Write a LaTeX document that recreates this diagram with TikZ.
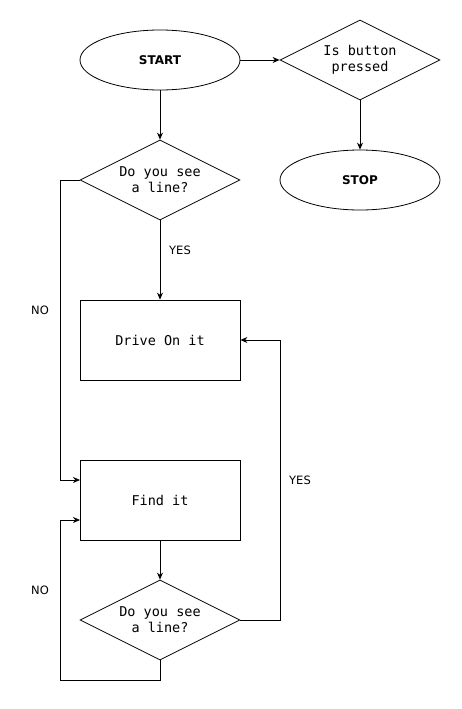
\documentclass[tikz,border=0pt]{standalone}
\usepackage{fontspec}
\setmainfont{DejaVu Sans}
\setmonofont{DejaVu Sans Mono}
\usetikzlibrary{shapes.geometric,arrows.meta}
\begin{document}
\begin{tikzpicture}[x=1pt,y=-1pt,
  every path/.style={line width=0.8pt},
  ell/.style={draw,ellipse,minimum width=160pt,minimum height=60pt,inner sep=0pt,font=\fontsize{12}{14}\selectfont\bfseries},
  dia/.style={draw,diamond,aspect=2,minimum width=160pt,minimum height=80pt,inner sep=0pt,align=center,font=\fontsize{13.5}{16}\ttfamily},
  box/.style={draw,rectangle,minimum width=160pt,minimum height=80pt,inner sep=0pt,font=\fontsize{13.5}{16}\ttfamily},
  lab/.style={font=\fontsize{11.5}{13}\selectfont},
  arr/.style={-{Stealth[length=7pt,width=6pt]}}]
\useasboundingbox (0,0) rectangle (461,709);
\node[ell] (start) at (160,60) {START};
\node[dia] (btn) at (360,60) {Is button\\pressed};
\node[ell] (stop) at (360,180) {STOP};
\node[dia] (d1) at (160,180) {Do you see\\a line?};
\node[box] (drive) at (160,340) {Drive On it};
\node[box] (find) at (160,500) {Find it};
\node[dia] (d2) at (160,620) {Do you see\\a line?};
\node[lab] (yes1) at (180,250) {YES};
\node[lab] (no1) at (40,310) {NO};
\node[lab] (yes2) at (300,480) {YES};
\node[lab] (no2) at (40,590) {NO};
\coordinate (findA) at (80,480);
\coordinate (findB) at (80,520);
\draw[arr] (start.east) -- (btn.west);
\draw[arr] (btn.south) -- (stop.north);
\draw[arr] (start.south) -- (d1.north);
\draw[arr] (d1.south) -- (drive.north);
\draw[arr] (d1.west) -- (60,180) -- (60,480) -- (findA);
\draw[arr] (find.south) -- (d2.north);
\draw[arr] (d2.east) -- (280,620) -- (280,340) -- (drive.east);
\draw[arr] (d2.south) -- (160,680) -- (60,680) -- (60,520) -- (findB);
\end{tikzpicture}
\end{document}
